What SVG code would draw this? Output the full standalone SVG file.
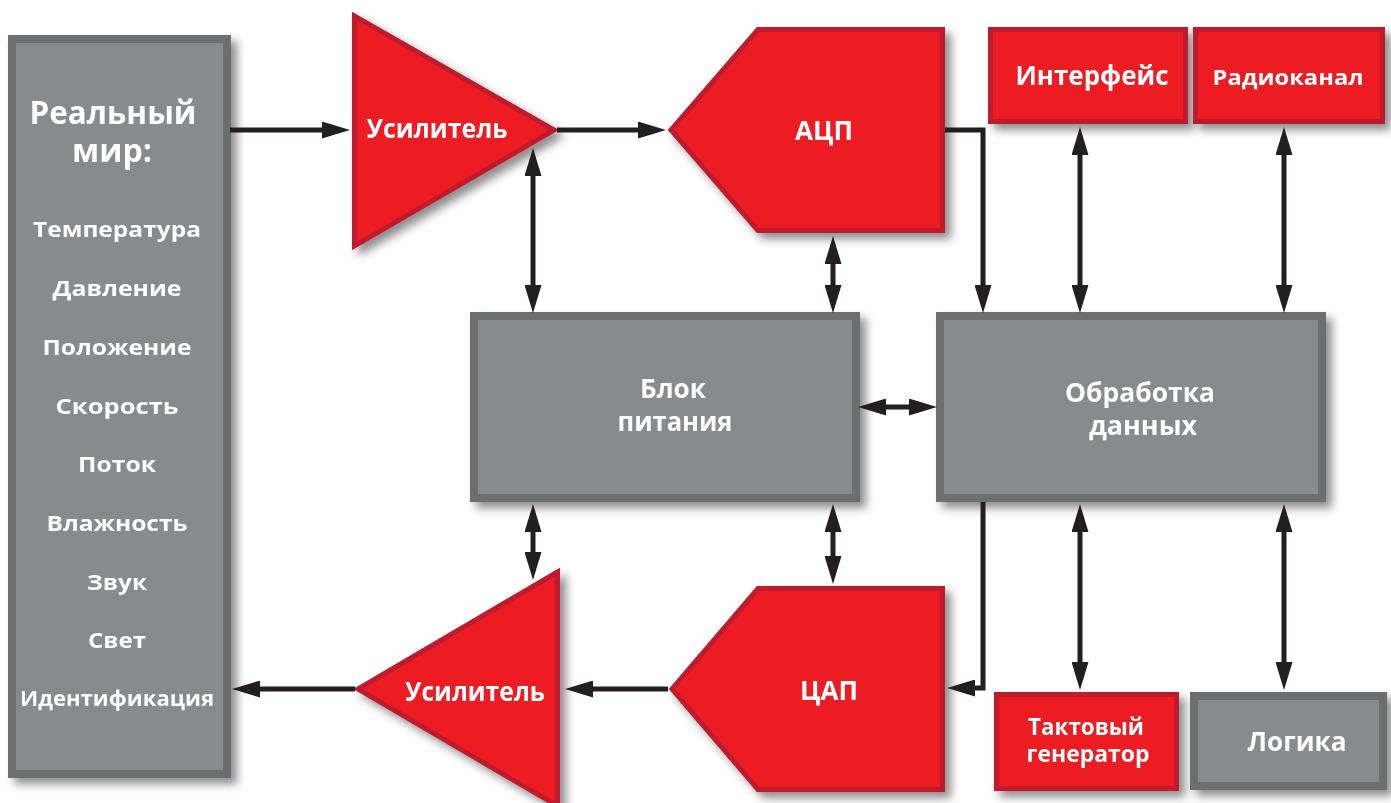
<svg xmlns="http://www.w3.org/2000/svg" width="1391" height="803" viewBox="0 0 1391 803">
  <defs>
    <filter id="shadow" x="-10%" y="-10%" width="130%" height="130%">
      <feDropShadow dx="6" dy="6" stdDeviation="5" flood-color="#000" flood-opacity="0.45"/>
    </filter>
    <!-- arrowhead: base sits on the line end, tip 28px beyond -->
    <marker id="ah" viewBox="0 0 28 17" refX="0" refY="8.5" markerWidth="28" markerHeight="17" markerUnits="userSpaceOnUse" orient="auto-start-reverse">
      <path d="M0,0 L28,8.5 L0,17 z" fill="#231f20"/>
    </marker>
    <style>
      .gray { fill: #898a8e; stroke: #6d6e71; stroke-width: 8; }
      .red { fill: #ed1c24; stroke: #be1e2d; stroke-width: 5; stroke-linejoin: miter; }
      .node { filter: url(#shadow); }
      text { font-family: "Open Sans", "Noto Sans", "Liberation Sans", sans-serif; font-weight: 700; fill: #ffffff; text-anchor: middle; }
      .lbl { font-size: 27px; }
      .lst { font-size: 22px; }
      .wire { fill: none; stroke: #231f20; stroke-width: 5; }
      .one { marker-end: url(#ah); }
      .two { marker-start: url(#ah); marker-end: url(#ah); }
    </style>
  </defs>

  <!-- real-world quantities -->
  <g id="real-world" class="node">
    <rect class="gray" x="12" y="39" width="215" height="735"/>
    <text x="113" y="124" style="font-size:32px" textLength="167" lengthAdjust="spacingAndGlyphs">Реальный</text>
    <text x="112" y="162" style="font-size:32px" textLength="80" lengthAdjust="spacingAndGlyphs">мир:</text>
    <text class="lst" x="117" y="237" textLength="168" lengthAdjust="spacingAndGlyphs">Температура</text>
    <text class="lst" x="117" y="296" textLength="129" lengthAdjust="spacingAndGlyphs">Давление</text>
    <text class="lst" x="117" y="355" textLength="149" lengthAdjust="spacingAndGlyphs">Положение</text>
    <text class="lst" x="117" y="414" textLength="123" lengthAdjust="spacingAndGlyphs">Скорость</text>
    <text class="lst" x="117" y="472" textLength="78" lengthAdjust="spacingAndGlyphs">Поток</text>
    <text class="lst" x="117" y="531" textLength="141" lengthAdjust="spacingAndGlyphs">Влажность</text>
    <text class="lst" x="117" y="590" textLength="60" lengthAdjust="spacingAndGlyphs">Звук</text>
    <text class="lst" x="117" y="648" textLength="58" lengthAdjust="spacingAndGlyphs">Свет</text>
    <text class="lst" x="117" y="706" textLength="194" lengthAdjust="spacingAndGlyphs">Идентификация</text>
  </g>

  <!-- input amplifier -->
  <g id="amp-in" class="node">
    <polygon class="red" points="354.5,16 354.5,246 554,130"/>
    <text class="lbl" x="437" y="138" textLength="141" lengthAdjust="spacingAndGlyphs">Усилитель</text>
  </g>

  <!-- ADC -->
  <g id="adc" class="node">
    <polygon class="red" points="758,29.5 942.5,29.5 942.5,230.5 758,230.5 671,130"/>
    <text class="lbl" x="824" y="140" textLength="58" lengthAdjust="spacingAndGlyphs">АЦП</text>
  </g>

  <!-- interface -->
  <g id="interface" class="node">
    <rect class="red" x="990.5" y="29.5" width="195" height="92"/>
    <text class="lbl" x="1092" y="85" textLength="153" lengthAdjust="spacingAndGlyphs">Интерфейс</text>
  </g>

  <!-- radio channel -->
  <g id="radio" class="node">
    <rect class="red" x="1195.5" y="29.5" width="187" height="92"/>
    <text x="1288" y="85" style="font-size:22px" textLength="151" lengthAdjust="spacingAndGlyphs">Радиоканал</text>
  </g>

  <!-- power supply -->
  <g id="power" class="node">
    <rect class="gray" x="474" y="316" width="382" height="182"/>
    <text class="lbl" x="673" y="398" textLength="66" lengthAdjust="spacingAndGlyphs">Блок</text>
    <text class="lbl" x="675" y="431" textLength="115" lengthAdjust="spacingAndGlyphs">питания</text>
  </g>

  <!-- data processing -->
  <g id="processing" class="node">
    <rect class="gray" x="940" y="316" width="382" height="182"/>
    <text class="lbl" x="1140" y="402" textLength="150" lengthAdjust="spacingAndGlyphs">Обработка</text>
    <text class="lbl" x="1143" y="435" textLength="108" lengthAdjust="spacingAndGlyphs">данных</text>
  </g>

  <!-- output amplifier -->
  <g id="amp-out" class="node">
    <polygon class="red" points="557.5,572 358,689 557.5,806"/>
    <text class="lbl" x="475" y="701" textLength="140" lengthAdjust="spacingAndGlyphs">Усилитель</text>
  </g>

  <!-- DAC -->
  <g id="dac" class="node">
    <polygon class="red" points="758,588.5 942.5,588.5 942.5,789.5 758,789.5 672,689"/>
    <text class="lbl" x="829" y="700" textLength="58" lengthAdjust="spacingAndGlyphs">ЦАП</text>
  </g>

  <!-- clock generator -->
  <g id="clock" class="node">
    <rect class="red" x="996.5" y="694.5" width="180" height="94"/>
    <text x="1086" y="735" style="font-size:24px" textLength="116" lengthAdjust="spacingAndGlyphs">Тактовый</text>
    <text x="1088" y="762" style="font-size:24px" textLength="123" lengthAdjust="spacingAndGlyphs">генератор</text>
  </g>

  <!-- logic -->
  <g id="logic" class="node">
    <rect class="gray" x="1194" y="696" width="189" height="90"/>
    <text class="lbl" x="1297" y="751" textLength="99" lengthAdjust="spacingAndGlyphs">Логика</text>
  </g>

  <!-- connectors -->
  <g id="connectors">
    <path class="wire one" d="M230,130 H322"/>
    <path class="wire one" d="M557,130 H638"/>
    <path class="wire two" d="M533,176 V285"/>
    <path class="wire two" d="M833,264 V285"/>
    <path class="wire one" d="M945,130 H983 V285"/>
    <path class="wire two" d="M1080,155 V285"/>
    <path class="wire two" d="M1284,155 V285"/>
    <path class="wire two" d="M886,407 H909"/>
    <path class="wire two" d="M533,532 V552"/>
    <path class="wire two" d="M833,532 V556"/>
    <path class="wire one" d="M983,502 V688 H975"/>
    <path class="wire two" d="M1080,532 V662"/>
    <path class="wire two" d="M1284,532 V662"/>
    <path class="wire one" d="M668,689 H593"/>
    <path class="wire one" d="M355,689 H260"/>
  </g>
</svg>
